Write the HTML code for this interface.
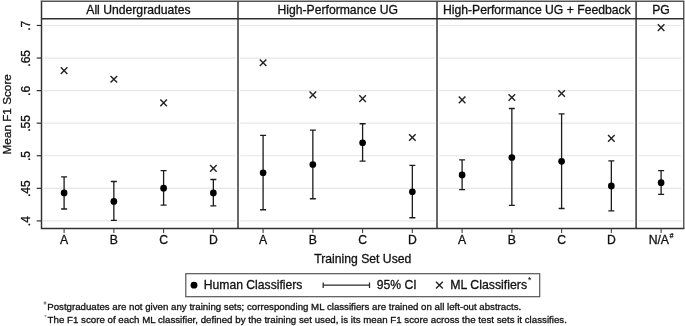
<!DOCTYPE html><html><head><meta charset="utf-8"><title>Figure</title><style>html,body{margin:0;padding:0;background:#fff}</style></head><body><svg width="685" height="326" viewBox="0 0 685 326" style="display:block;filter:blur(0.35px)">
<rect width="685" height="326" fill="#fff"/>
<line x1="43.7" x2="235.8" y1="220.90" y2="220.90" stroke="#e6e6e6" stroke-width="1.2"/>
<line x1="240.2" x2="434.8" y1="220.90" y2="220.90" stroke="#e6e6e6" stroke-width="1.2"/>
<line x1="439.2" x2="633.9" y1="220.90" y2="220.90" stroke="#e6e6e6" stroke-width="1.2"/>
<line x1="638.3" x2="681.5" y1="220.90" y2="220.90" stroke="#e6e6e6" stroke-width="1.2"/>
<line x1="36.7" x2="41.5" y1="220.90" y2="220.90" stroke="#303030" stroke-width="1.2"/>
<line x1="43.7" x2="235.8" y1="188.33" y2="188.33" stroke="#e6e6e6" stroke-width="1.2"/>
<line x1="240.2" x2="434.8" y1="188.33" y2="188.33" stroke="#e6e6e6" stroke-width="1.2"/>
<line x1="439.2" x2="633.9" y1="188.33" y2="188.33" stroke="#e6e6e6" stroke-width="1.2"/>
<line x1="638.3" x2="681.5" y1="188.33" y2="188.33" stroke="#e6e6e6" stroke-width="1.2"/>
<line x1="36.7" x2="41.5" y1="188.33" y2="188.33" stroke="#303030" stroke-width="1.2"/>
<line x1="43.7" x2="235.8" y1="155.76" y2="155.76" stroke="#e6e6e6" stroke-width="1.2"/>
<line x1="240.2" x2="434.8" y1="155.76" y2="155.76" stroke="#e6e6e6" stroke-width="1.2"/>
<line x1="439.2" x2="633.9" y1="155.76" y2="155.76" stroke="#e6e6e6" stroke-width="1.2"/>
<line x1="638.3" x2="681.5" y1="155.76" y2="155.76" stroke="#e6e6e6" stroke-width="1.2"/>
<line x1="36.7" x2="41.5" y1="155.76" y2="155.76" stroke="#303030" stroke-width="1.2"/>
<line x1="43.7" x2="235.8" y1="123.19" y2="123.19" stroke="#e6e6e6" stroke-width="1.2"/>
<line x1="240.2" x2="434.8" y1="123.19" y2="123.19" stroke="#e6e6e6" stroke-width="1.2"/>
<line x1="439.2" x2="633.9" y1="123.19" y2="123.19" stroke="#e6e6e6" stroke-width="1.2"/>
<line x1="638.3" x2="681.5" y1="123.19" y2="123.19" stroke="#e6e6e6" stroke-width="1.2"/>
<line x1="36.7" x2="41.5" y1="123.19" y2="123.19" stroke="#303030" stroke-width="1.2"/>
<line x1="43.7" x2="235.8" y1="90.62" y2="90.62" stroke="#e6e6e6" stroke-width="1.2"/>
<line x1="240.2" x2="434.8" y1="90.62" y2="90.62" stroke="#e6e6e6" stroke-width="1.2"/>
<line x1="439.2" x2="633.9" y1="90.62" y2="90.62" stroke="#e6e6e6" stroke-width="1.2"/>
<line x1="638.3" x2="681.5" y1="90.62" y2="90.62" stroke="#e6e6e6" stroke-width="1.2"/>
<line x1="36.7" x2="41.5" y1="90.62" y2="90.62" stroke="#303030" stroke-width="1.2"/>
<line x1="43.7" x2="235.8" y1="58.05" y2="58.05" stroke="#e6e6e6" stroke-width="1.2"/>
<line x1="240.2" x2="434.8" y1="58.05" y2="58.05" stroke="#e6e6e6" stroke-width="1.2"/>
<line x1="439.2" x2="633.9" y1="58.05" y2="58.05" stroke="#e6e6e6" stroke-width="1.2"/>
<line x1="638.3" x2="681.5" y1="58.05" y2="58.05" stroke="#e6e6e6" stroke-width="1.2"/>
<line x1="36.7" x2="41.5" y1="58.05" y2="58.05" stroke="#303030" stroke-width="1.2"/>
<line x1="43.7" x2="235.8" y1="25.48" y2="25.48" stroke="#e6e6e6" stroke-width="1.2"/>
<line x1="240.2" x2="434.8" y1="25.48" y2="25.48" stroke="#e6e6e6" stroke-width="1.2"/>
<line x1="439.2" x2="633.9" y1="25.48" y2="25.48" stroke="#e6e6e6" stroke-width="1.2"/>
<line x1="638.3" x2="681.5" y1="25.48" y2="25.48" stroke="#e6e6e6" stroke-width="1.2"/>
<line x1="36.7" x2="41.5" y1="25.48" y2="25.48" stroke="#303030" stroke-width="1.2"/>
<path d="M64.1 176.9V209M61.099999999999994 176.9H67.1M61.099999999999994 209H67.1" stroke="#1c1c1c" stroke-width="1.3" fill="none"/>
<circle cx="64.1" cy="192.9" r="3.35" fill="#000"/>
<path d="M60.8 67.3L67.39999999999999 73.89999999999999M60.8 73.89999999999999L67.39999999999999 67.3" stroke="#222" stroke-width="1.4" fill="none"/>
<path d="M113.85 181.5V220.4M110.85 181.5H116.85M110.85 220.4H116.85" stroke="#1c1c1c" stroke-width="1.3" fill="none"/>
<circle cx="113.85" cy="201.4" r="3.35" fill="#000"/>
<path d="M110.55 75.9L117.14999999999999 82.5M110.55 82.5L117.14999999999999 75.9" stroke="#222" stroke-width="1.4" fill="none"/>
<path d="M163.6 170.7V205.2M160.6 170.7H166.6M160.6 205.2H166.6" stroke="#1c1c1c" stroke-width="1.3" fill="none"/>
<circle cx="163.6" cy="188.2" r="3.35" fill="#000"/>
<path d="M160.29999999999998 99.60000000000001L166.9 106.2M160.29999999999998 106.2L166.9 99.60000000000001" stroke="#222" stroke-width="1.4" fill="none"/>
<path d="M213.35 179.5V205.8M210.35 179.5H216.35M210.35 205.8H216.35" stroke="#1c1c1c" stroke-width="1.3" fill="none"/>
<circle cx="213.35" cy="192.9" r="3.35" fill="#000"/>
<path d="M210.04999999999998 165.1L216.65 171.70000000000002M210.04999999999998 171.70000000000002L216.65 165.1" stroke="#222" stroke-width="1.4" fill="none"/>
<path d="M263.1 135.4V209.75M260.1 135.4H266.1M260.1 209.75H266.1" stroke="#1c1c1c" stroke-width="1.3" fill="none"/>
<circle cx="263.1" cy="172.75" r="3.35" fill="#000"/>
<path d="M259.8 59.400000000000006L266.40000000000003 66.0M259.8 66.0L266.40000000000003 59.400000000000006" stroke="#222" stroke-width="1.4" fill="none"/>
<path d="M312.85 130.1V198.75M309.85 130.1H315.85M309.85 198.75H315.85" stroke="#1c1c1c" stroke-width="1.3" fill="none"/>
<circle cx="312.85" cy="164.5" r="3.35" fill="#000"/>
<path d="M309.55 91.60000000000001L316.15000000000003 98.2M309.55 98.2L316.15000000000003 91.60000000000001" stroke="#222" stroke-width="1.4" fill="none"/>
<path d="M362.6 123.75V161.1M359.6 123.75H365.6M359.6 161.1H365.6" stroke="#1c1c1c" stroke-width="1.3" fill="none"/>
<circle cx="362.6" cy="142.75" r="3.35" fill="#000"/>
<path d="M359.3 95.3L365.90000000000003 101.89999999999999M359.3 101.89999999999999L365.90000000000003 95.3" stroke="#222" stroke-width="1.4" fill="none"/>
<path d="M412.35 165.4V217.75M409.35 165.4H415.35M409.35 217.75H415.35" stroke="#1c1c1c" stroke-width="1.3" fill="none"/>
<circle cx="412.35" cy="191.75" r="3.35" fill="#000"/>
<path d="M409.05 134.2L415.65000000000003 140.8M409.05 140.8L415.65000000000003 134.2" stroke="#222" stroke-width="1.4" fill="none"/>
<path d="M462.1 159.9V189.7M459.1 159.9H465.1M459.1 189.7H465.1" stroke="#1c1c1c" stroke-width="1.3" fill="none"/>
<circle cx="462.1" cy="174.9" r="3.35" fill="#000"/>
<path d="M458.8 96.60000000000001L465.40000000000003 103.2M458.8 103.2L465.40000000000003 96.60000000000001" stroke="#222" stroke-width="1.4" fill="none"/>
<path d="M511.85 108.5V205.4M508.85 108.5H514.85M508.85 205.4H514.85" stroke="#1c1c1c" stroke-width="1.3" fill="none"/>
<circle cx="511.85" cy="157.5" r="3.35" fill="#000"/>
<path d="M508.55 94.2L515.15 100.8M508.55 100.8L515.15 94.2" stroke="#222" stroke-width="1.4" fill="none"/>
<path d="M561.6 113.9V208.5M558.6 113.9H564.6M558.6 208.5H564.6" stroke="#1c1c1c" stroke-width="1.3" fill="none"/>
<circle cx="561.6" cy="161.3" r="3.35" fill="#000"/>
<path d="M558.3000000000001 90.2L564.9 96.8M558.3000000000001 96.8L564.9 90.2" stroke="#222" stroke-width="1.4" fill="none"/>
<path d="M611.35 160.9V210.9M608.35 160.9H614.35M608.35 210.9H614.35" stroke="#1c1c1c" stroke-width="1.3" fill="none"/>
<circle cx="611.35" cy="185.9" r="3.35" fill="#000"/>
<path d="M608.0500000000001 135.1L614.65 141.70000000000002M608.0500000000001 141.70000000000002L614.65 135.1" stroke="#222" stroke-width="1.4" fill="none"/>
<path d="M661.1 170.7V194.3M658.1 170.7H664.1M658.1 194.3H664.1" stroke="#1c1c1c" stroke-width="1.3" fill="none"/>
<circle cx="661.1" cy="182.7" r="3.35" fill="#000"/>
<path d="M657.8000000000001 24.3L664.4 30.900000000000002M657.8000000000001 30.900000000000002L664.4 24.3" stroke="#222" stroke-width="1.4" fill="none"/>
<path d="M41.5 0.8V228.5H684.45" fill="none" stroke="#303030" stroke-width="1.45"/>
<path d="M40.8 1.3H684.35" fill="none" stroke="#555" stroke-width="1.4"/>
<path d="M683.75 1.5V228.5" fill="none" stroke="#4a4a4a" stroke-width="1.35"/>
<line x1="41.5" x2="683.75" y1="18.7" y2="18.7" stroke="#303030" stroke-width="1.45"/>
<line x1="238.0" x2="238.0" y1="1.5" y2="228.5" stroke="#303030" stroke-width="1.45"/>
<line x1="437.0" x2="437.0" y1="1.5" y2="228.5" stroke="#303030" stroke-width="1.45"/>
<line x1="636.1" x2="636.1" y1="1.5" y2="228.5" stroke="#303030" stroke-width="1.45"/>
<line x1="64.1" x2="64.1" y1="228.5" y2="233.1" stroke="#444" stroke-width="1.1"/>
<line x1="113.85" x2="113.85" y1="228.5" y2="233.1" stroke="#444" stroke-width="1.1"/>
<line x1="163.6" x2="163.6" y1="228.5" y2="233.1" stroke="#444" stroke-width="1.1"/>
<line x1="213.35" x2="213.35" y1="228.5" y2="233.1" stroke="#444" stroke-width="1.1"/>
<line x1="263.1" x2="263.1" y1="228.5" y2="233.1" stroke="#444" stroke-width="1.1"/>
<line x1="312.85" x2="312.85" y1="228.5" y2="233.1" stroke="#444" stroke-width="1.1"/>
<line x1="362.6" x2="362.6" y1="228.5" y2="233.1" stroke="#444" stroke-width="1.1"/>
<line x1="412.35" x2="412.35" y1="228.5" y2="233.1" stroke="#444" stroke-width="1.1"/>
<line x1="462.1" x2="462.1" y1="228.5" y2="233.1" stroke="#444" stroke-width="1.1"/>
<line x1="511.85" x2="511.85" y1="228.5" y2="233.1" stroke="#444" stroke-width="1.1"/>
<line x1="561.6" x2="561.6" y1="228.5" y2="233.1" stroke="#444" stroke-width="1.1"/>
<line x1="611.35" x2="611.35" y1="228.5" y2="233.1" stroke="#444" stroke-width="1.1"/>
<line x1="661.1" x2="661.1" y1="228.5" y2="233.1" stroke="#444" stroke-width="1.1"/>
<text x="138.4" y="13.7" text-anchor="middle" font-family="Liberation Sans, Arial, sans-serif" fill="#111" stroke="#111" stroke-width="0.3" font-size="12.18">All Undergraduates</text>
<text x="337.7" y="13.7" text-anchor="middle" font-family="Liberation Sans, Arial, sans-serif" fill="#111" stroke="#111" stroke-width="0.3" font-size="12.18">High-Performance UG</text>
<text x="536.8" y="13.7" text-anchor="middle" font-family="Liberation Sans, Arial, sans-serif" fill="#111" stroke="#111" stroke-width="0.3" font-size="12.18">High-Performance UG + Feedback</text>
<text x="661.0" y="13.7" text-anchor="middle" font-family="Liberation Sans, Arial, sans-serif" fill="#111" stroke="#111" stroke-width="0.3" font-size="12.18">PG</text>
<text x="64.1" y="244.0" text-anchor="middle" font-family="Liberation Sans, Arial, sans-serif" fill="#111" stroke="#111" stroke-width="0.3" font-size="12.18">A</text>
<text x="113.85" y="244.0" text-anchor="middle" font-family="Liberation Sans, Arial, sans-serif" fill="#111" stroke="#111" stroke-width="0.3" font-size="12.18">B</text>
<text x="163.6" y="244.0" text-anchor="middle" font-family="Liberation Sans, Arial, sans-serif" fill="#111" stroke="#111" stroke-width="0.3" font-size="12.18">C</text>
<text x="213.35" y="244.0" text-anchor="middle" font-family="Liberation Sans, Arial, sans-serif" fill="#111" stroke="#111" stroke-width="0.3" font-size="12.18">D</text>
<text x="263.1" y="244.0" text-anchor="middle" font-family="Liberation Sans, Arial, sans-serif" fill="#111" stroke="#111" stroke-width="0.3" font-size="12.18">A</text>
<text x="312.85" y="244.0" text-anchor="middle" font-family="Liberation Sans, Arial, sans-serif" fill="#111" stroke="#111" stroke-width="0.3" font-size="12.18">B</text>
<text x="362.6" y="244.0" text-anchor="middle" font-family="Liberation Sans, Arial, sans-serif" fill="#111" stroke="#111" stroke-width="0.3" font-size="12.18">C</text>
<text x="412.35" y="244.0" text-anchor="middle" font-family="Liberation Sans, Arial, sans-serif" fill="#111" stroke="#111" stroke-width="0.3" font-size="12.18">D</text>
<text x="462.1" y="244.0" text-anchor="middle" font-family="Liberation Sans, Arial, sans-serif" fill="#111" stroke="#111" stroke-width="0.3" font-size="12.18">A</text>
<text x="511.85" y="244.0" text-anchor="middle" font-family="Liberation Sans, Arial, sans-serif" fill="#111" stroke="#111" stroke-width="0.3" font-size="12.18">B</text>
<text x="561.6" y="244.0" text-anchor="middle" font-family="Liberation Sans, Arial, sans-serif" fill="#111" stroke="#111" stroke-width="0.3" font-size="12.18">C</text>
<text x="611.35" y="244.0" text-anchor="middle" font-family="Liberation Sans, Arial, sans-serif" fill="#111" stroke="#111" stroke-width="0.3" font-size="12.18">D</text>
<text x="661.1" y="244.0" text-anchor="middle" font-family="Liberation Sans, Arial, sans-serif" fill="#111" stroke="#111" stroke-width="0.3" font-size="12.18">N/A<tspan font-size="7" dx="0.6" dy="-6.4" font-style="italic" stroke-width="0.25">#</tspan></text>
<text transform="translate(30.3 221.20) rotate(-90)" text-anchor="middle" font-family="Liberation Sans, Arial, sans-serif" fill="#111" stroke="#111" stroke-width="0.3" font-size="12.0">.4</text>
<text transform="translate(30.3 188.63) rotate(-90)" text-anchor="middle" font-family="Liberation Sans, Arial, sans-serif" fill="#111" stroke="#111" stroke-width="0.3" font-size="12.0">.45</text>
<text transform="translate(30.3 156.06) rotate(-90)" text-anchor="middle" font-family="Liberation Sans, Arial, sans-serif" fill="#111" stroke="#111" stroke-width="0.3" font-size="12.0">.5</text>
<text transform="translate(30.3 123.49) rotate(-90)" text-anchor="middle" font-family="Liberation Sans, Arial, sans-serif" fill="#111" stroke="#111" stroke-width="0.3" font-size="12.0">.55</text>
<text transform="translate(30.3 90.92) rotate(-90)" text-anchor="middle" font-family="Liberation Sans, Arial, sans-serif" fill="#111" stroke="#111" stroke-width="0.3" font-size="12.0">.6</text>
<text transform="translate(30.3 58.35) rotate(-90)" text-anchor="middle" font-family="Liberation Sans, Arial, sans-serif" fill="#111" stroke="#111" stroke-width="0.3" font-size="12.0">.65</text>
<text transform="translate(30.3 25.78) rotate(-90)" text-anchor="middle" font-family="Liberation Sans, Arial, sans-serif" fill="#111" stroke="#111" stroke-width="0.3" font-size="12.0">.7</text>
<text transform="translate(10.8 114.3) rotate(-90)" text-anchor="middle" font-family="Liberation Sans, Arial, sans-serif" fill="#111" stroke="#111" stroke-width="0.3" font-size="11.74">Mean F1 Score</text>
<text x="362.8" y="263.4" text-anchor="middle" font-family="Liberation Sans, Arial, sans-serif" fill="#111" stroke="#111" stroke-width="0.3" font-size="12.18">Training Set Used</text>
<rect x="185.8" y="273.7" width="353.9" height="23.0" fill="#fff" stroke="#555" stroke-width="1.2"/>
<circle cx="194.0" cy="285.2" r="3.4" fill="#000"/>
<text x="203.7" y="288.9" font-family="Liberation Sans, Arial, sans-serif" fill="#111" stroke="#111" stroke-width="0.3" font-size="12.18">Human Classifiers</text>
<path d="M323.2 285.2H369.5M323.2 282.5V287.9M369.5 282.5V287.9" stroke="#2a2a2a" stroke-width="1.25" fill="none"/>
<text x="376.7" y="288.9" font-family="Liberation Sans, Arial, sans-serif" fill="#111" stroke="#111" stroke-width="0.3" font-size="12.18">95% CI</text>
<path d="M436.0 281.8L442.8 288.6M436.0 288.6L442.8 281.8" stroke="#222" stroke-width="1.4" fill="none"/>
<text x="450.2" y="288.9" font-family="Liberation Sans, Arial, sans-serif" fill="#111" stroke="#111" stroke-width="0.3" font-size="12.32">ML Classifiers<tspan font-size="8.5" dx="1.0" dy="-5.5" stroke-width="0.1">*</tspan></text>
<text x="43.4" y="304.6" font-family="Liberation Sans, Arial, sans-serif" font-size="5.2" font-style="italic" fill="#444">#</text>
<text x="47.2" y="310.3" font-family="Liberation Sans, Arial, sans-serif" fill="#111" stroke="#111" stroke-width="0.3" font-size="9.6" textLength="474.1" lengthAdjust="spacingAndGlyphs">Postgraduates are not given any training sets; corresponding ML classifiers are trained on all left-out abstracts.</text>
<text x="44.2" y="318.8" font-family="Liberation Sans, Arial, sans-serif" font-size="6" fill="#555">*</text>
<text x="47.6" y="323.3" font-family="Liberation Sans, Arial, sans-serif" fill="#111" stroke="#111" stroke-width="0.3" font-size="9.6" textLength="519.3" lengthAdjust="spacingAndGlyphs">The F1 score of each ML classifier, defined by the training set used, is its mean F1 score across the test sets it classifies.</text>
</svg></body></html>
